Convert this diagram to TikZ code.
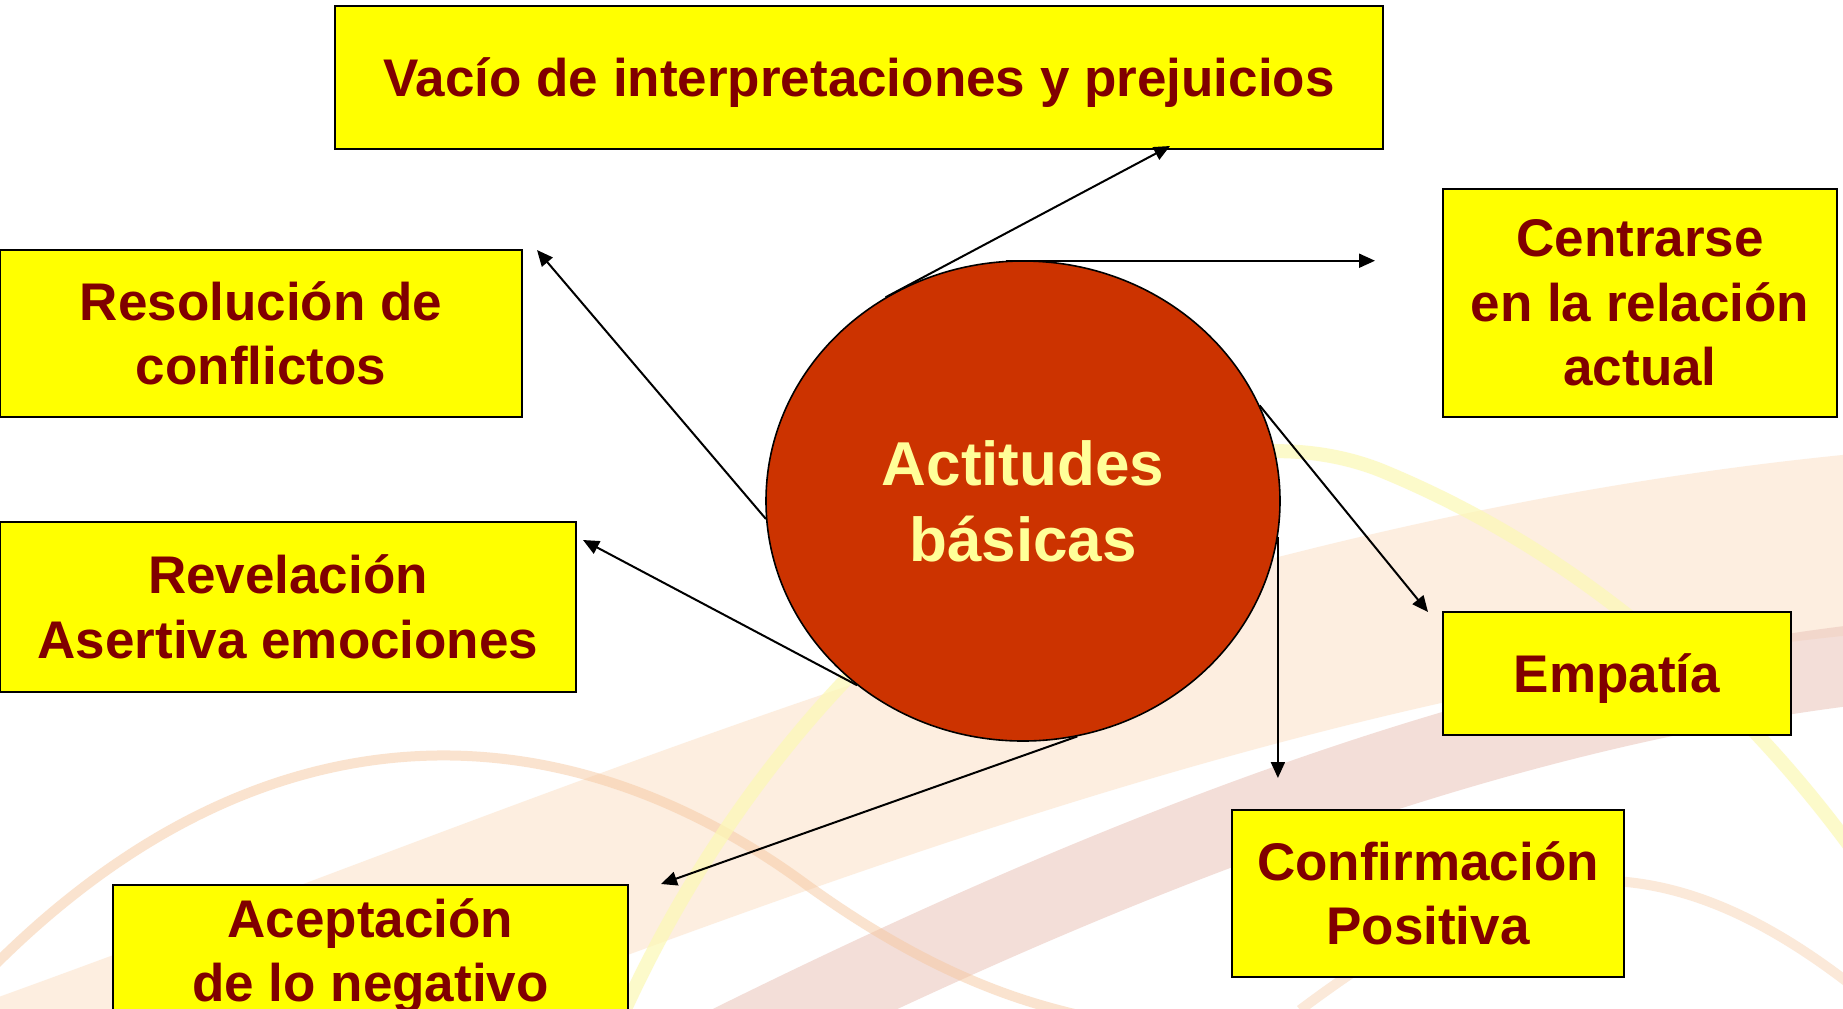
\documentclass[tikz,border=0pt]{standalone}
\usepackage{fontspec}
\setmainfont{Liberation Sans}
\usepackage{tikz}
\usetikzlibrary{arrows.meta,shapes.geometric,positioning}
\definecolor{fondocaja}{RGB}{255,255,0}
\definecolor{letra}{RGB}{128,0,0}
\definecolor{centro}{RGB}{204,51,0}
\definecolor{letracentro}{RGB}{255,255,153}
\definecolor{durazno}{RGB}{252,228,204}
\definecolor{rosado}{RGB}{236,200,190}
\definecolor{naranja}{RGB}{246,200,160}
\definecolor{amarillo}{RGB}{252,248,180}

\begin{document}
\begin{tikzpicture}[x=0.5pt,y=-0.5pt,
  caja/.style={draw=black,line width=1.2pt,fill=fondocaja,text=letra,align=center,inner sep=0pt,
    font=\fontsize{26.5}{32.3}\selectfont\bfseries},
  flecha/.style={line width=1pt,-{Triangle[length=8pt,width=7pt]}}]
\useasboundingbox (0,0) rectangle (1843,1008);
\clip (0,0) rectangle (1843,1008);
\fill[white] (0,0) rectangle (1843,1008);
\draw[durazno,line width=90pt,opacity=.6] (-50,1110) .. controls (600,880) and (1200,600) .. (1900,540);
\draw[rosado,line width=40pt,opacity=.6] (700,1060) .. controls (1100,860) and (1500,700) .. (1900,660);
\draw[naranja,line width=5pt,opacity=.5] (-20,980) .. controls (250,700) and (550,700) .. (800,880) .. controls (950,990) and (1050,1008) .. (1100,1020);
\draw[naranja,line width=5pt,opacity=.4] (1300,1010) .. controls (1500,860) and (1650,820) .. (1870,1000);
\draw[amarillo,line width=7pt,opacity=.7] (620,1020) .. controls (800,620) and (1150,380) .. (1380,470) .. controls (1600,560) and (1760,720) .. (1860,860);

\node[caja,minimum width=524pt,minimum height=71.5pt,text depth=0pt] (vacio) at (859,77.5) {Vacío de interpretaciones y prejuicios};
\node[caja,minimum width=197pt,minimum height=114pt] (centrarse) at (1640,303) {Centrarse\\en la relación\\actual};
\node[caja,minimum width=261pt,minimum height=83.5pt] (resolucion) at (261,333.5) {Resolución de\\conflictos};
\node[caja,minimum width=288pt,minimum height=85pt] (revelacion) at (288,607) {Revelación\\Asertiva emociones};
\node[caja,minimum width=174pt,minimum height=61.5pt,text depth=0pt] (empatia) at (1617,673.5) {Empatía};
\node[caja,minimum width=196pt,minimum height=83.5pt] (confirmacion) at (1428,893.5) {Confirmación\\Positiva};
\node[caja,minimum width=257.5pt,minimum height=70.5pt] (aceptacion) at (370.5,955.5) {Aceptación\\de lo negativo};

\node[ellipse,draw=black,line width=0.8pt,fill=centro,text=letracentro,inner sep=0pt,
  minimum width=257pt,minimum height=240pt,align=center,
  font=\fontsize{31}{38}\selectfont\bfseries] (actitudes) at (1023,501) {Actitudes\\básicas};

\coordinate (fVacio) at (1170,146);
\coordinate (fCentr) at (1375,261);
\coordinate (fResol) at (537,250);
\coordinate (fRevel) at (583,540);
\coordinate (fEmpat) at (1428,612);
\coordinate (fConf) at (1278,778);
\coordinate (fAcep) at (661,884);

\draw[flecha] (actitudes.124) -- (fVacio);
\draw[flecha] (actitudes.94) -- (actitudes.94 -| fCentr);
\draw[flecha] (actitudes.184) -- (fResol);
\draw[flecha] (actitudes.228) -- (fRevel);
\draw[flecha] (actitudes.22) -- (fEmpat);
\draw[flecha] (actitudes.-8) -- (actitudes.-8 |- fConf);
\draw[flecha] (actitudes.-77) -- (fAcep);
\end{tikzpicture}
\end{document}
